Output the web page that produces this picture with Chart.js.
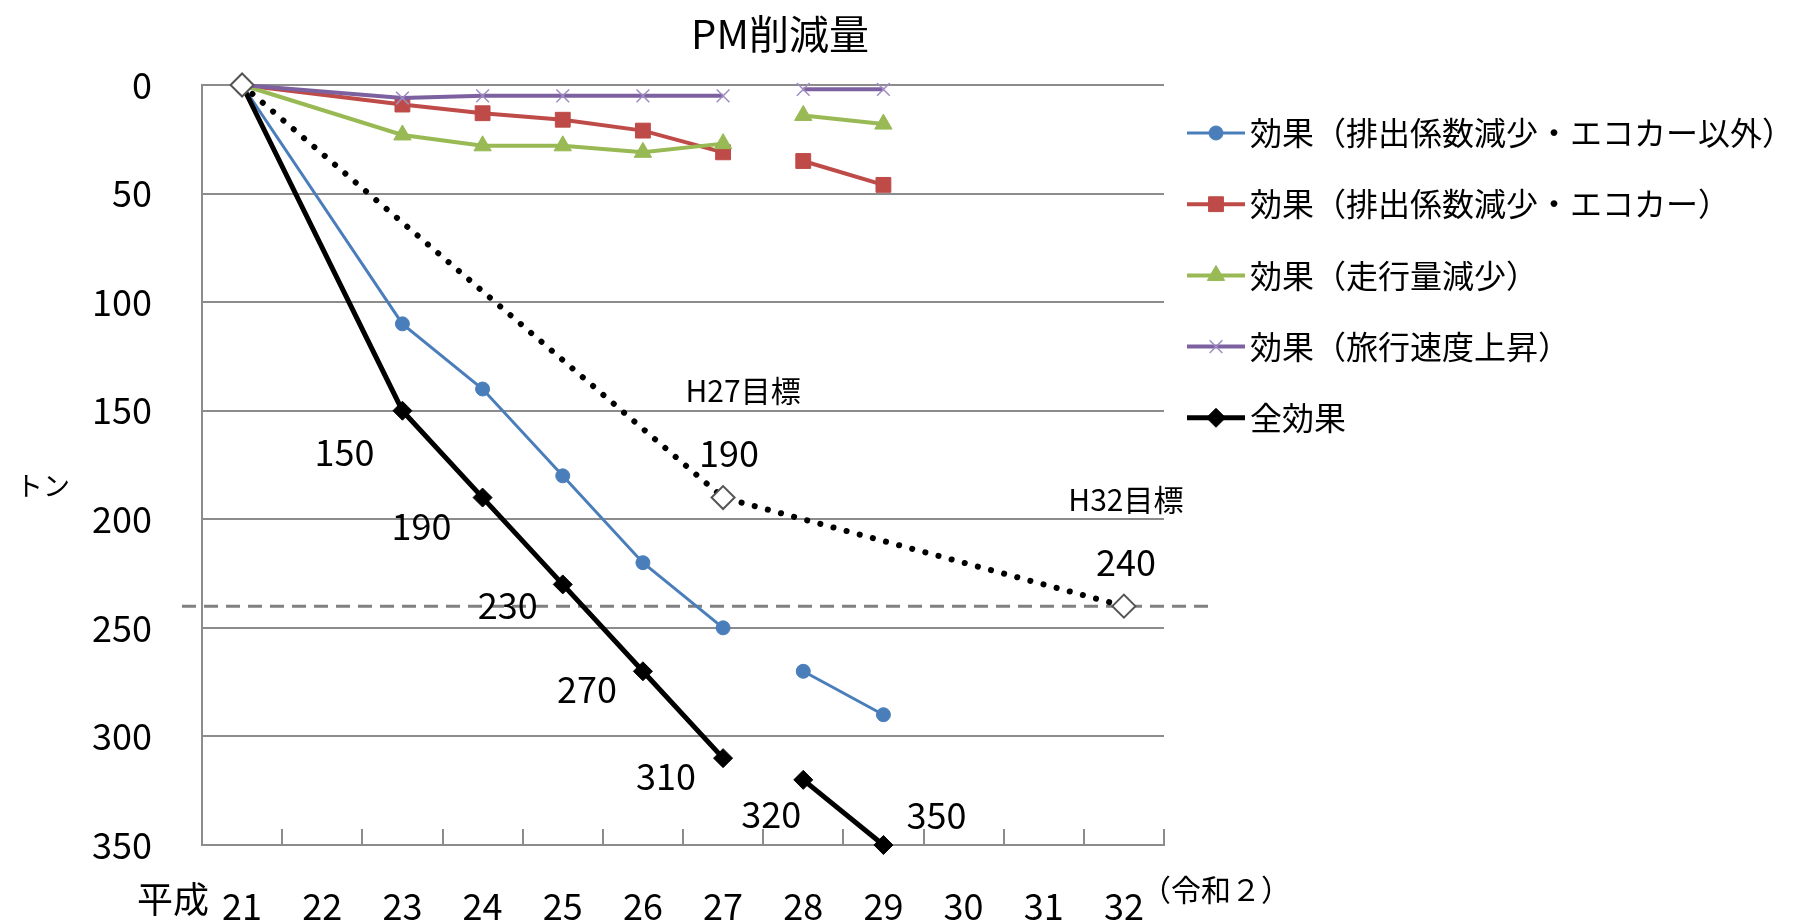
<!DOCTYPE html>
<html>
<head>
<meta charset="utf-8">
<title>PM削減量</title>
<script src="https://cdn.jsdelivr.net/npm/chart.js@4.4.1/dist/chart.umd.min.js"></script>
<style>
  html, body { margin: 0; padding: 0; background: #fff; }
  canvas { display: block; }
</style>
</head>
<body>
<canvas id="pmChart" width="1806" height="922"></canvas>
<script>
// 平成の年度（32 = 令和2）
const years = ['21', '22', '23', '24', '25', '26', '27', '28', '29', '30', '31', '32'];

// トン
const exhaustOther  = [0, null, 110, 140, 180, 220, 250, 270, 290, null, null, null];
const exhaustEco    = [0, null, 9, 13, 16, 21, 31, 35, 46, null, null, null];
const trafficVolume = [0, null, 23, 28, 28, 31, 27, 14, 18, null, null, null];
const travelSpeed   = [0, null, 6, 5, 5, 5, 5, 2, 2, null, null, null];
const totalEffect   = [0, null, 150, 190, 230, 270, 310, 320, 350, null, null, null];
const targets       = [0, null, null, null, null, null, 190, null, null, null, null, 240];
const targetNames   = ['', null, null, null, null, null, 'H27目標', null, null, null, null, 'H32目標'];
const targetLine = 240;
const breakAfter = '27';   // 27と28の間は線を切る

const seriesNames = [
    '効果（排出係数減少・エコカー以外）',
    '効果（排出係数減少・エコカー）',
    '効果（走行量減少）',
    '効果（旅行速度上昇）',
    '全効果'
];

const FONT = "'Noto Sans CJK JP', 'Noto Sans', sans-serif";
const GRID = '#8c8c8c';

// 線を27→28で切る
const cutSegment = {
    borderColor: ctx => years[ctx.p0DataIndex] === breakAfter ? 'rgba(0,0,0,0)' : undefined
};

function series(label, data, color, radius, extra) {
    return Object.assign({
        label: label,
        data: data,
        borderColor: color,
        backgroundColor: color,
        pointBackgroundColor: color,
        pointBorderColor: color,
        borderWidth: 4,
        pointBorderWidth: 1,
        // 21年の点は目標の白抜きマーカーだけ見せる
        pointRadius: ctx => ctx.dataIndex === 0 ? 0 : radius,
        legendRadius: radius,
        spanGaps: true,
        clip: false,
        segment: cutSegment
    }, extra);
}

const datasets = [
    series(seriesNames[0], exhaustOther, '#4A7EBB', 7, { pointStyle: 'circle', borderWidth: 3, order: 5 }),
    series(seriesNames[1], exhaustEco, '#BE4B48', 10.5, { pointStyle: 'rect', order: 4 }),
    series(seriesNames[2], trafficVolume, '#98B954', 10, { pointStyle: 'triangle', order: 3 }),
    series(seriesNames[3], travelSpeed, '#7D60A0', 9, { pointStyle: 'crossRot', pointBorderColor: '#9F8BC2', pointBorderWidth: 1.5, order: 2 }),
    series(seriesNames[4], totalEffect, '#000000', 9.5, { pointStyle: 'rectRot', borderWidth: 5, order: 1 }),
    {
        label: '目標',
        data: targets,
        borderColor: '#000',
        borderWidth: 6,
        borderDash: [0.1, 13.5],
        borderCapStyle: 'round',
        pointStyle: 'rectRot',
        pointRadius: 11.5,
        pointBackgroundColor: '#fff',
        pointBorderColor: '#555',
        pointBorderWidth: 2,
        spanGaps: true,
        clip: false,
        order: 0
    }
];

// 全効果の数値ラベルの位置（点からのずれ）
const totalLabelShift = [null, null, [-58, 42], [-61, 29], [-55, 21], [-56, 18], [-57, 18], [-32, 34], [53, -30]];

function drawMarker(ctx, ds, x, y) {
    ctx.save();
    ctx.fillStyle = ds.pointBackgroundColor;
    ctx.strokeStyle = ds.pointBorderColor;
    ctx.lineWidth = ds.pointBorderWidth;
    Chart.helpers.drawPoint(ctx, { pointStyle: ds.pointStyle, radius: ds.legendRadius, rotation: 0, borderWidth: ds.pointBorderWidth }, x, y);
    ctx.restore();
}

const decorations = {
    id: 'decorations',
    beforeDatasetsDraw(chart) {
        const { ctx, chartArea, scales: { x, y } } = chart;
        ctx.save();
        // 内向きの目盛り
        ctx.strokeStyle = GRID;
        ctx.lineWidth = 2;
        ctx.beginPath();
        for (let i = 1; i <= years.length; i++) {
            const px = Math.round(x.getPixelForValue(i - 0.5));
            ctx.moveTo(px, chartArea.bottom);
            ctx.lineTo(px, chartArea.bottom - 16);
        }
        ctx.stroke();
        // 目標の破線
        const ty = y.getPixelForValue(targetLine);
        ctx.strokeStyle = '#808080';
        ctx.lineWidth = 3;
        ctx.setLineDash([14, 8]);
        ctx.beginPath();
        ctx.moveTo(chartArea.left - 20, ty);
        ctx.lineTo(chartArea.right + 46, ty);
        ctx.stroke();
        ctx.restore();
    },
    afterDraw(chart) {
        const { ctx, chartArea, scales: { x, y } } = chart;
        ctx.save();
        ctx.fillStyle = '#000';
        ctx.textBaseline = 'middle';

        // タイトル
        ctx.textAlign = 'center';
        ctx.font = '40px ' + FONT;
        ctx.fillText('PM削減量', 780, 34);

        // 軸ラベル
        ctx.font = '27px ' + FONT;
        ctx.fillText('トン', 43, 486);
        const labelY = chartArea.bottom + 54;
        ctx.font = '36px ' + FONT;
        ctx.textAlign = 'right';
        ctx.fillText('平成', x.getPixelForValue(0) - 33, labelY);
        ctx.font = '30px ' + FONT;
        ctx.textAlign = 'left';
        ctx.fillText('（令和２）', x.getPixelForValue(years.length - 1) + 17, labelY - 9);

        // 全効果の数値
        ctx.textAlign = 'center';
        ctx.font = '36px ' + FONT;
        totalEffect.forEach((v, i) => {
            const s = totalLabelShift[i];
            if (v === null || !s) return;
            ctx.fillText(String(v), x.getPixelForValue(i) + s[0], y.getPixelForValue(v) + s[1]);
        });

        // 目標の注記
        targets.forEach((v, i) => {
            if (v === null || !targetNames[i]) return;
            const px = x.getPixelForValue(i);
            const py = y.getPixelForValue(v);
            const dx = i === years.length - 1 ? 2 : 20;
            ctx.font = '30px ' + FONT;
            ctx.fillText(targetNames[i], px + dx, py - 107);
            ctx.font = '36px ' + FONT;
            ctx.fillText(String(v), px + (i === years.length - 1 ? 2 : 6), py - 44);
        });

        // 凡例
        const lx = 1187, lw = 58, ly0 = 133, step = 71.2;
        ctx.textAlign = 'left';
        ctx.font = '32px ' + FONT;
        seriesNames.forEach((name, i) => {
            const ds = chart.data.datasets[i];
            const ly = ly0 + i * step;
            ctx.save();
            ctx.strokeStyle = ds.borderColor;
            ctx.lineWidth = ds.borderWidth;
            ctx.beginPath();
            ctx.moveTo(lx, ly);
            ctx.lineTo(lx + lw, ly);
            ctx.stroke();
            ctx.restore();
            drawMarker(ctx, ds, lx + lw / 2, ly);
            ctx.fillStyle = '#000';
            ctx.fillText(name, lx + lw + 5, ly);
        });
        ctx.restore();
    }
};

const config = {
    type: 'line',
    data: {
        labels: years,
        datasets: datasets
    },
    options: {
        responsive: false,
        animation: false,
        layout: {
            padding: { top: 85, right: 642, bottom: 0, left: 0 }
        },
        plugins: {
            legend: { display: false },
            title: { display: false },
            tooltip: { enabled: false }
        },
        scales: {
            x: {
                offset: true,
                grid: { display: false },
                border: { color: GRID, width: 2 },
                ticks: {
                    padding: 32,
                    color: '#000',
                    font: { family: FONT, size: 36 }
                },
                afterFit(scale) { scale.height = 77; }
            },
            y: {
                reverse: true,
                min: 0,
                max: 350,
                grid: { color: GRID, lineWidth: 2, drawTicks: false },
                border: { color: GRID, width: 2 },
                ticks: {
                    stepSize: 50,
                    padding: 50,
                    color: '#000',
                    font: { family: FONT, size: 36 }
                },
                afterFit(scale) { scale.width = 202; }
            }
        }
    },
    plugins: [decorations]
};

const context = document.getElementById('pmChart').getContext('2d');
const pmChart = new Chart(context, config);
</script>
</body>
</html>
